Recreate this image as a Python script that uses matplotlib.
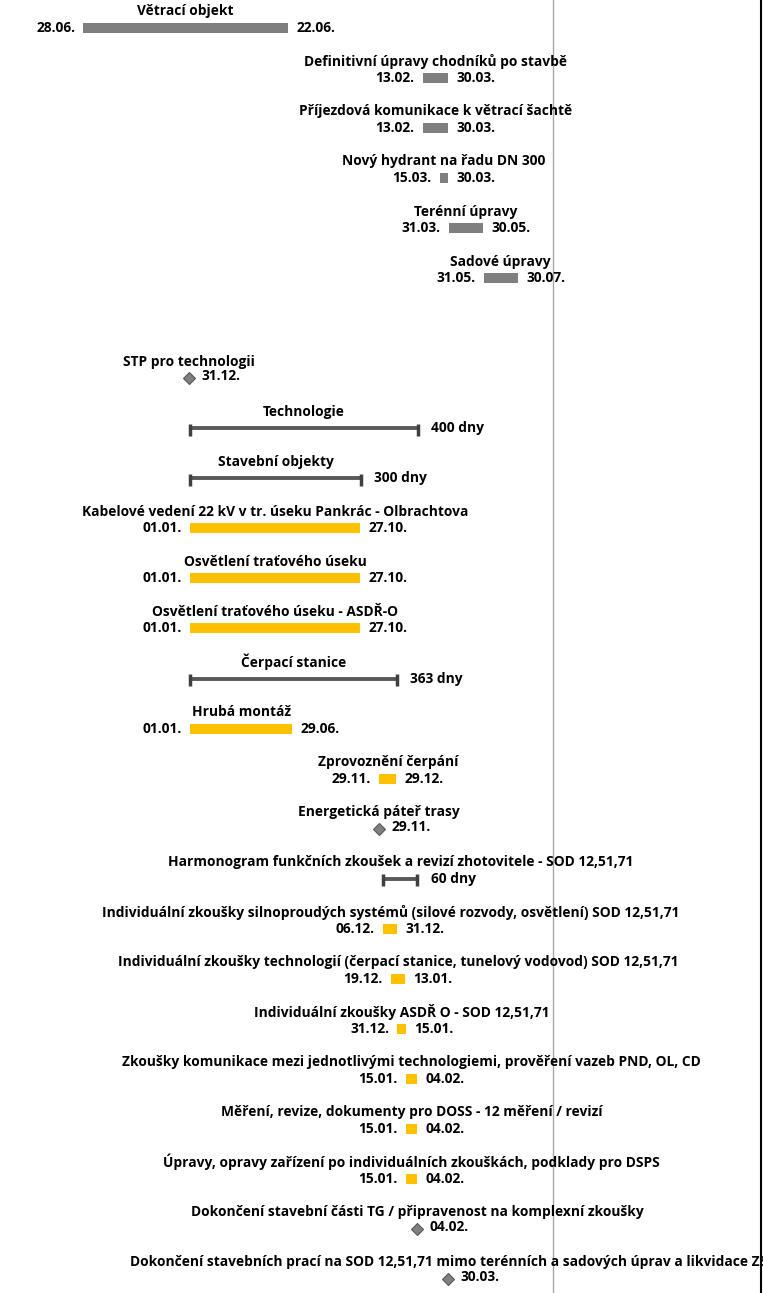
import datetime as dt
import matplotlib
matplotlib.use("Agg")
import matplotlib.pyplot as plt
import matplotlib.dates as mdates

plt.rcParams['font.family'] = ['Open Sans', 'DejaVu Sans']

# task data (top to bottom), '' = empty row
names = [
    "Větrací objekt",
    "Definitivní úpravy chodníků po stavbě",
    "Příjezdová komunikace k větrací šachtě",
    "Nový hydrant na řadu DN 300",
    "Terénní úpravy",
    "Sadové úpravy",
    "",
    "STP pro technologii",
    "Technologie",
    "Stavební objekty",
    "Kabelové vedení 22 kV v tr. úseku Pankrác - Olbrachtova",
    "Osvětlení traťového úseku",
    "Osvětlení traťového úseku - ASDŘ-O",
    "Čerpací stanice",
    "Hrubá montáž",
    "Zprovoznění čerpání",
    "Energetická páteř trasy",
    "Harmonogram funkčních zkoušek a revizí zhotovitele - SOD 12,51,71",
    "Individuální zkoušky silnoproudých systémů (silové rozvody, osvětlení) SOD 12,51,71",
    "Individuální zkoušky technologií (čerpací stanice, tunelový vodovod) SOD 12,51,71",
    "Individuální zkoušky ASDŘ O - SOD 12,51,71",
    "Zkoušky komunikace mezi jednotlivými technologiemi, prověření vazeb PND, OL, CD",
    "Měření, revize, dokumenty pro DOSS - 12 měření / revizí",
    "Úpravy, opravy zařízení po individuálních zkouškách, podklady pro DSPS",
    "Dokončení stavební části TG / připravenost na komplexní zkoušky",
    "Dokončení stavebních prací na SOD 12,51,71 mimo terénních a sadových úprav a likvidace ZS",
]
kinds = ["gray"] * 6 + ["blank", "milestone", "summary", "summary",
         "yellow", "yellow", "yellow", "summary", "yellow", "yellow", "milestone",
         "summary", "yellow", "yellow", "yellow", "yellow", "yellow", "yellow",
         "milestone", "milestone"]
starts = [
    "2024-06-28", "2026-02-13", "2026-02-13", "2026-03-15", "2026-03-31", "2026-05-31",
    None,
    "2024-12-31", "2025-01-01", "2025-01-01",
    "2025-01-01", "2025-01-01", "2025-01-01", "2025-01-01", "2025-01-01",
    "2025-11-29", "2025-11-29", "2025-12-06", "2025-12-06", "2025-12-19",
    "2025-12-31", "2026-01-15", "2026-01-15", "2026-01-15", "2026-02-04", "2026-03-30",
]
ends = [
    "2025-06-22", "2026-03-30", "2026-03-30", "2026-03-30", "2026-05-30", "2026-07-30",
    None,
    None, None, None,
    "2025-10-27", "2025-10-27", "2025-10-27", None, "2025-06-29",
    "2025-12-29", None, None, "2025-12-31", "2026-01-13",
    "2026-01-15", "2026-02-04", "2026-02-04", "2026-02-04", None, None,
]
# summary durations in days
durations = {8: 400, 9: 300, 13: 363, 17: 60}
today = "2026-09-30"

colors = {"gray": "#7f7f7f", "yellow": "#ffc000"}

fig = plt.figure(figsize=(7.63, 12.93), dpi=100)
ax = fig.add_axes([0, 0, 761 / 763, 1])

def d(s):
    return mdates.date2num(dt.datetime.strptime(s, "%Y-%m-%d"))

def fmt(num):
    return mdates.num2date(num).strftime("%d.%m.")

px_per_day = 0.57
origin = d("2025-01-01")
ax.set_xlim(origin - 190 / px_per_day, origin + (761 - 190) / px_per_day)
ax.set_ylim(25.28, -0.56)

tkw = dict(fontsize=9.9, fontweight="bold", color="black")

for i, (name, kind) in enumerate(zip(names, kinds)):
    if kind == "blank":
        continue
    s = d(starts[i])
    if kind in ("gray", "yellow"):
        e = d(ends[i])
        ax.barh(i, e - s, left=s, height=0.2, color=colors[kind])
        ax.annotate(fmt(s), (s, i), xytext=(-6, 0), textcoords="offset points",
                    ha="right", va="center", **tkw)
        ax.annotate(fmt(e), (e, i), xytext=(6, 0), textcoords="offset points",
                    ha="left", va="center", **tkw)
        cx = (s + e) / 2
    elif kind == "summary":
        e = s + durations[i]
        ax.plot([s, e], [i, i], color="#595959", lw=2.8, solid_capstyle="butt")
        ax.plot([s, e], [i + 0.03, i + 0.03], ls="none", marker="|", ms=9, mew=2.5,
                color="#404040")
        ax.annotate(f"{durations[i]} dny", (e, i), xytext=(9.5, 0),
                    textcoords="offset points", ha="left", va="center", **tkw)
        cx = (s + e) / 2
    else:
        ax.plot([s], [i], marker="D", ms=6, color="#7f7f7f", mec="#595959", mew=0.8)
        ax.annotate(fmt(s), (s, i), xytext=(9, 1.5), textcoords="offset points",
                    ha="left", va="center", **tkw)
        cx = s
    ax.annotate(name, (cx, i), xytext=(0, 12), textcoords="offset points",
                ha="center", va="center", annotation_clip=False, **tkw)

ax.axvline(d(today), color="#a6a6a6", lw=1, zorder=0)

for side in ("top", "left", "bottom"):
    ax.spines[side].set_visible(False)
ax.spines["right"].set_color("black")
ax.spines["right"].set_linewidth(1.5)
ax.set_xticks([])
ax.set_yticks([])

fig.savefig("out.png", dpi=100)
